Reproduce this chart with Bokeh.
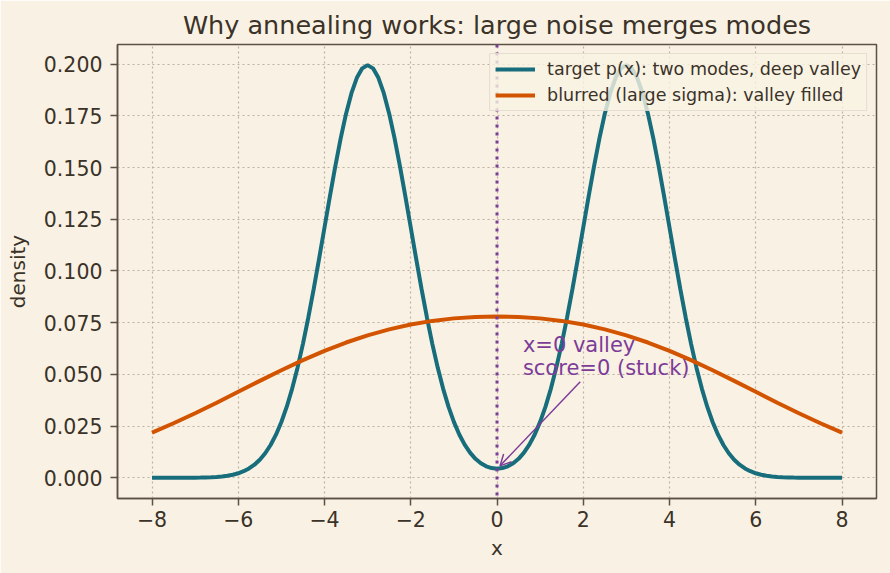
from bokeh.plotting import figure
from bokeh.models import (Range1d, FixedTicker, PrintfTickFormatter, Span, Label,
                          Arrow, OpenHead, Legend, LegendItem, ColumnDataSource)
from bokeh.embed import file_html
from bokeh.resources import INLINE

# ---------------- data ----------------
x_target = [
    -8.0, -7.875, -7.75, -7.625, -7.5, -7.375, -7.25, -7.125, -7.0, -6.875, -6.75, -6.625,
    -6.5, -6.375, -6.25, -6.125, -6.0, -5.875, -5.75, -5.625, -5.5, -5.375, -5.25, -5.125,
    -5.0, -4.875, -4.75, -4.625, -4.5, -4.375, -4.25, -4.125, -4.0, -3.875, -3.75, -3.625,
    -3.5, -3.375, -3.25, -3.125, -3.0, -2.875, -2.75, -2.625, -2.5, -2.375, -2.25, -2.125,
    -2.0, -1.875, -1.75, -1.625, -1.5, -1.375, -1.25, -1.125, -1.0, -0.875, -0.75, -0.625,
    -0.5, -0.375, -0.25, -0.125, 0.0, 0.125, 0.25, 0.375, 0.5, 0.625, 0.75, 0.875,
    1.0, 1.125, 1.25, 1.375, 1.5, 1.625, 1.75, 1.875, 2.0, 2.125, 2.25, 2.375,
    2.5, 2.625, 2.75, 2.875, 3.0, 3.125, 3.25, 3.375, 3.5, 3.625, 3.75, 3.875,
    4.0, 4.125, 4.25, 4.375, 4.5, 4.625, 4.75, 4.875, 5.0, 5.125, 5.25, 5.375,
    5.5, 5.625, 5.75, 5.875, 6.0, 6.125, 6.25, 6.375, 6.5, 6.625, 6.75, 6.875,
    7.0, 7.125, 7.25, 7.375, 7.5, 7.625, 7.75, 7.875, 8.0,
]
p_target = [
    0.00000, 0.00000, 0.00000, 0.00000, 0.00001, 0.00001, 0.00002, 0.00004, 0.00007, 0.00011, 0.00018, 0.00028,
    0.00044, 0.00067, 0.00101, 0.00151, 0.00222, 0.00320, 0.00455, 0.00636, 0.00876, 0.01189, 0.01587, 0.02086,
    0.02700, 0.03439, 0.04314, 0.05327, 0.06476, 0.07751, 0.09133, 0.10594, 0.12099, 0.13603, 0.15057, 0.16408,
    0.17603, 0.18593, 0.19333, 0.19792, 0.19947, 0.19792, 0.19333, 0.18593, 0.17603, 0.16408, 0.15057, 0.13603,
    0.12099, 0.10594, 0.09133, 0.07751, 0.06477, 0.05328, 0.04316, 0.03443, 0.02706, 0.02097, 0.01605, 0.01217,
    0.00920, 0.00703, 0.00556, 0.00471, 0.00443, 0.00471, 0.00556, 0.00703, 0.00920, 0.01217, 0.01605, 0.02097,
    0.02706, 0.03443, 0.04316, 0.05328, 0.06477, 0.07751, 0.09133, 0.10594, 0.12099, 0.13603, 0.15057, 0.16408,
    0.17603, 0.18593, 0.19333, 0.19792, 0.19947, 0.19792, 0.19333, 0.18593, 0.17603, 0.16408, 0.15057, 0.13603,
    0.12099, 0.10594, 0.09133, 0.07751, 0.06476, 0.05327, 0.04314, 0.03439, 0.02700, 0.02086, 0.01587, 0.01189,
    0.00876, 0.00636, 0.00455, 0.00320, 0.00222, 0.00151, 0.00101, 0.00067, 0.00044, 0.00028, 0.00018, 0.00011,
    0.00007, 0.00004, 0.00002, 0.00001, 0.00001, 0.00000, 0.00000, 0.00000, 0.00000,
]

x_blur = [
    -8.0, -7.5, -7.0, -6.5, -6.0, -5.5, -5.0, -4.5, -4.0, -3.5, -3.0, -2.5, -2.0, -1.5, -1.0, -0.5,
    0.0, 0.5, 1.0, 1.5, 2.0, 2.5, 3.0, 3.5, 4.0, 4.5, 5.0, 5.5, 6.0, 6.5, 7.0, 7.5, 8.0,
]
p_blur = [
    0.02190, 0.02638, 0.03122, 0.03633, 0.04160, 0.04687, 0.05202, 0.05690, 0.06139, 0.06541, 0.06889,
    0.07178, 0.07410, 0.07586, 0.07708, 0.07780, 0.07804, 0.07780, 0.07708, 0.07586, 0.07410, 0.07178,
    0.06889, 0.06541, 0.06139, 0.05690, 0.05202, 0.04687, 0.04160, 0.03633, 0.03122, 0.02638, 0.02190,
]

x_ticks = [-8, -6, -4, -2, 0, 2, 4, 6, 8]
x_tick_labels = ["\u22128", "\u22126", "\u22124", "\u22122", "0", "2", "4", "6", "8"]
y_ticks = [0.0, 0.025, 0.05, 0.075, 0.1, 0.125, 0.15, 0.175, 0.2]

series_labels = ["target p(x): two modes, deep valley", "blurred (large sigma): valley filled"]
title_text = "Why annealing works: large noise merges modes"
annot_lines = ["x=0 valley", "score=0 (stuck)"]
valley_x = 0.0

# ---------------- styling ----------------
BG = "#f9f2e4"
INK = "#3b3228"
FRAME = "#5c5142"
GRID = "#bdb2a1"
TEAL = "#176d7b"
ORANGE = "#d35400"
PURPLE = "#7d3c98"
FONT = "DejaVu Sans"

p = figure(width=890, height=573, output_backend="svg", toolbar_location=None,
           x_range=Range1d(-8.8, 8.8), y_range=Range1d(-0.00998, 0.20945),
           min_border_left=117, min_border_right=14, min_border_top=44, min_border_bottom=75)

p.background_fill_color = BG
p.border_fill_color = BG
p.outline_line_color = FRAME
p.outline_line_width = 1.5

p.title.text = title_text
p.title.align = "center"
p.title.text_font = FONT
p.title.text_font_size = "25.5px"
p.title.text_font_style = "normal"
p.title.text_color = INK

for ax in (p.xaxis[0], p.yaxis[0]):
    ax.axis_line_color = FRAME
    ax.axis_line_width = 1.5
    ax.major_tick_line_color = FRAME
    ax.major_tick_line_width = 1.5
    ax.major_tick_out = 7
    ax.major_tick_in = 0
    ax.minor_tick_line_color = None
    ax.major_label_text_font = FONT
    ax.major_label_text_font_size = "20.5px"
    ax.major_label_text_color = INK
    ax.axis_label_text_font = FONT
    ax.axis_label_text_font_size = "20px"
    ax.axis_label_text_font_style = "normal"
    ax.axis_label_text_color = INK

p.xaxis.axis_label = "x"
p.yaxis.axis_label = "density"
p.xaxis.ticker = FixedTicker(ticks=x_ticks)
p.xaxis.major_label_overrides = {t: lab for t, lab in zip(x_ticks, x_tick_labels)}
p.yaxis.ticker = FixedTicker(ticks=y_ticks)
p.yaxis.formatter = PrintfTickFormatter(format="%.3f")
p.xaxis.major_label_standoff = 5
p.yaxis.major_label_standoff = 8
p.xaxis.axis_label_standoff = 6
p.yaxis.axis_label_standoff = 11

for g in (p.xgrid[0], p.ygrid[0]):
    g.grid_line_color = GRID
    g.grid_line_dash = "2 3"
    g.grid_line_width = 1.2

src_t = ColumnDataSource(dict(x=x_target, y=p_target))
src_b = ColumnDataSource(dict(x=x_blur, y=p_blur))
r1 = p.line("x", "y", source=src_t, line_color=TEAL, line_width=4)
r2 = p.line("x", "y", source=src_b, line_color=ORANGE, line_width=4)

span = Span(location=valley_x, dimension="height", line_color=PURPLE, line_width=3,
            line_dash="3 5", level="glyph")
p.add_layout(span)

arrow = Arrow(end=OpenHead(size=11, line_color=PURPLE, line_width=1.5),
              x_start=1.93, y_start=0.0465, x_end=0.07, y_end=0.0058,
              line_color=PURPLE, line_width=1.5)
p.add_layout(arrow)

for txt, yy in zip(annot_lines, [0.0641, 0.0530]):
    p.add_layout(Label(x=0.6, y=yy, text=txt, text_font=FONT, text_font_size="21px",
                       text_color=PURPLE, text_baseline="alphabetic", text_align="left"))

legend = Legend(items=[LegendItem(label=series_labels[0], renderers=[r1]),
                       LegendItem(label=series_labels[1], renderers=[r2])],
                location="top_right")
legend.label_text_font = FONT
legend.label_text_font_size = "17.5px"
legend.label_text_color = INK
legend.glyph_width = 40
legend.glyph_height = 20
legend.label_height = 20
legend.label_standoff = 12
legend.spacing = 6
legend.padding = 5
legend.margin = 9
legend.background_fill_color = BG
legend.background_fill_alpha = 0.8
legend.border_line_color = "#d3cabb"
legend.border_line_width = 1
p.add_layout(legend, "center")

open("out.html", "w").write(file_html(p, INLINE))
